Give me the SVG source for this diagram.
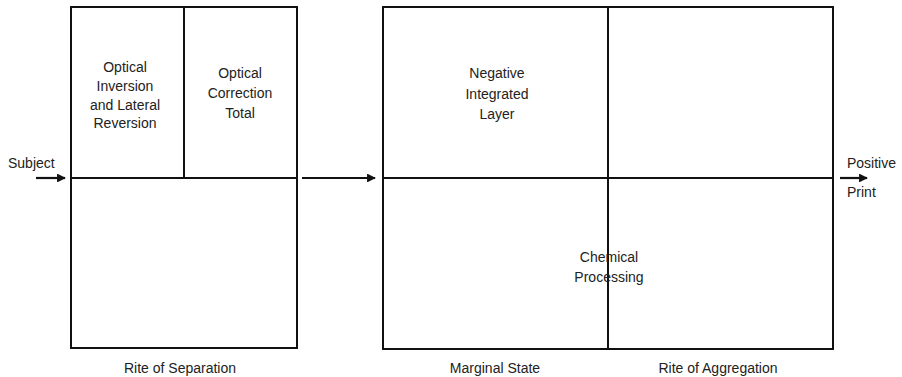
<svg xmlns="http://www.w3.org/2000/svg" width="902" height="377" viewBox="0 0 902 377">
  <style>
    .frame { fill: none; stroke: #111; stroke-width: 2; }
    .rule { stroke: #111; stroke-width: 2; }
    .arrow { stroke: #111; stroke-width: 2.2; fill: none; marker-end: url(#head); }
    text { font-family: "Liberation Sans", Arial, sans-serif; font-size: 14px; fill: #222; }
    .c { text-anchor: middle; }
  </style>
  <defs>
    <marker id="head" viewBox="0 0 10 10" refX="9" refY="5" markerWidth="4" markerHeight="4" orient="auto" markerUnits="strokeWidth">
      <path d="M0,0 L10,5 L0,10 Z" fill="#111"/>
    </marker>
  </defs>
  <rect width="902" height="377" fill="#fff"/>

  <!-- Separation block -->
  <g id="separation">
    <rect class="frame" x="71" y="7" width="226" height="341"/>
    <line class="rule" x1="71" y1="178" x2="297" y2="178"/>
    <line class="rule" x1="184" y1="7" x2="184" y2="178"/>
    <text class="c" x="125" y="72">Optical</text>
    <text class="c" x="125" y="91">Inversion</text>
    <text class="c" x="125" y="110">and Lateral</text>
    <text class="c" x="125" y="128">Reversion</text>
    <text class="c" x="240" y="78">Optical</text>
    <text class="c" x="240" y="98">Correction</text>
    <text class="c" x="240" y="118">Total</text>
    <text class="c" x="180" y="373">Rite of Separation</text>
  </g>

  <!-- Marginal / aggregation block -->
  <g id="marginal-aggregation">
    <rect class="frame" x="383" y="7" width="450" height="342"/>
    <line class="rule" x1="383" y1="178" x2="833" y2="178"/>
    <line class="rule" x1="608" y1="7" x2="608" y2="349"/>
    <text class="c" x="497" y="78">Negative</text>
    <text class="c" x="497" y="99">Integrated</text>
    <text class="c" x="497" y="119">Layer</text>
    <text class="c" x="609" y="262">Chemical</text>
    <text class="c" x="609" y="282">Processing</text>
    <text class="c" x="495" y="373">Marginal State</text>
    <text class="c" x="718" y="373">Rite of Aggregation</text>
  </g>

  <g id="subject">
    <text x="8" y="168">Subject</text>
  </g>
  <g id="print">
    <text x="847" y="168">Positive</text>
    <text x="847" y="197">Print</text>
  </g>

  <!-- connectors -->
  <g id="connectors">
    <line class="arrow" x1="36" y1="178" x2="65" y2="178"/>
    <line class="arrow" x1="302" y1="178" x2="375" y2="178"/>
    <line class="arrow" x1="840" y1="178" x2="867" y2="178"/>
  </g>
</svg>
